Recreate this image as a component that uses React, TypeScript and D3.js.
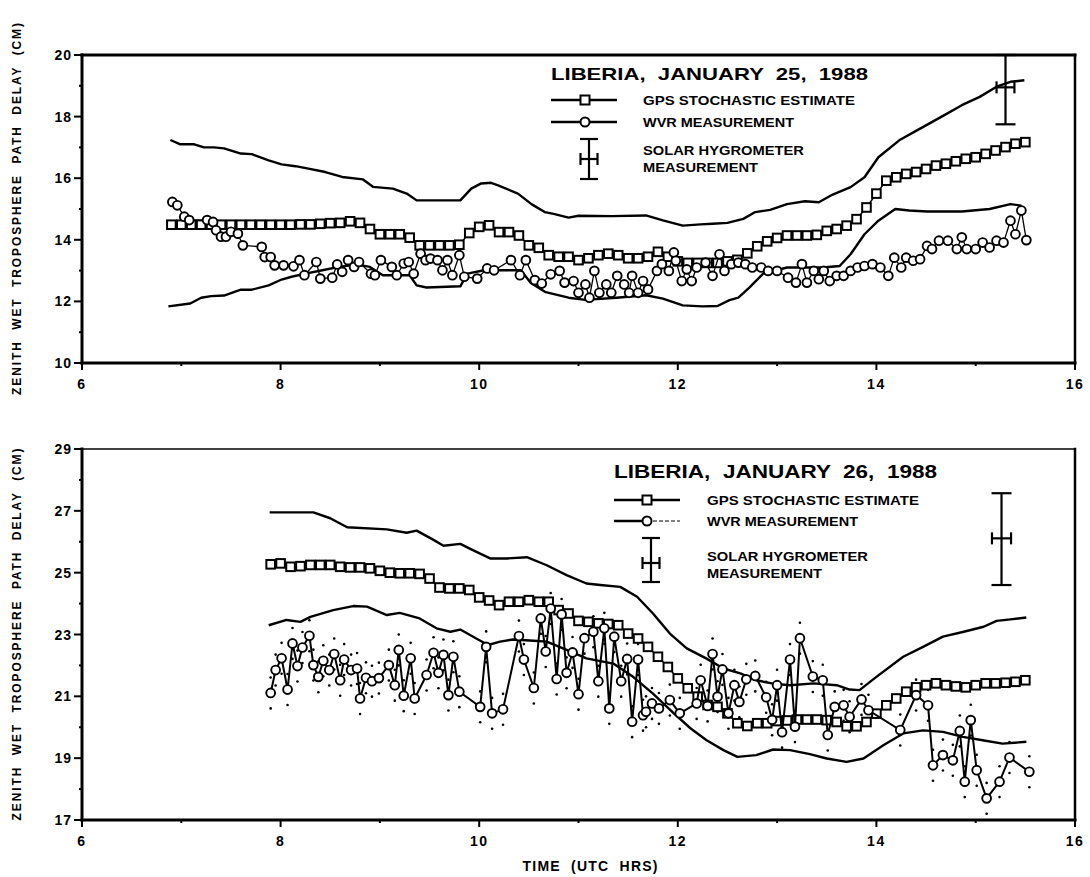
import React from "react";
import * as d3 from "d3";

// ---------- DATA ----------
const X_TICKS = [6, 7, 8, 9, 10, 11, 12, 13, 14, 15, 16];
const X_LABELS = [6, 8, 10, 12, 14, 16];
const Y25_TICKS = [10, 11, 12, 13, 14, 15, 16, 17, 18, 19, 20];
const Y25_LABELS = [10, 12, 14, 16, 18, 20];
const Y26_TICKS = [17, 18, 19, 20, 21, 22, 23, 24, 25, 26, 27, 28, 29];
const Y26_LABELS = [17, 19, 21, 23, 25, 27, 29];

const UPPER_25: [number, number][] = [
  [6.89, 17.24], [6.99, 17.1], [7.13, 17.1], [7.23, 17.0], [7.33, 17.0], [7.43, 16.97], [7.6, 16.8], [7.71, 16.78],
  [7.88, 16.58], [8.01, 16.45], [8.15, 16.39], [8.28, 16.31], [8.45, 16.2], [8.62, 16.04], [8.83, 15.96], [8.93, 15.72],
  [9.13, 15.66], [9.27, 15.5], [9.37, 15.28], [9.81, 15.28], [9.92, 15.66], [10.02, 15.83], [10.12, 15.85], [10.19, 15.77],
  [10.39, 15.5], [10.53, 15.15], [10.66, 14.9], [10.75, 14.84], [10.9, 14.72], [11.0, 14.78], [11.34, 14.77], [11.68, 14.79],
  [11.85, 14.63], [12.05, 14.46], [12.23, 14.5], [12.35, 14.52], [12.5, 14.55], [12.66, 14.68], [12.78, 14.9], [12.93, 14.97],
  [13.1, 15.16], [13.28, 15.25], [13.42, 15.22], [13.56, 15.47], [13.74, 15.71], [13.88, 16.03], [14.02, 16.68], [14.23, 17.23],
  [14.44, 17.61], [14.68, 18.04], [14.86, 18.37], [15.04, 18.64], [15.21, 18.97], [15.35, 19.13], [15.49, 19.18],
];
const LOWER_25: [number, number][] = [
  [6.87, 11.84], [7.09, 11.93], [7.2, 12.12], [7.3, 12.17], [7.43, 12.19], [7.6, 12.38], [7.71, 12.38], [7.88, 12.52],
  [8.01, 12.71], [8.11, 12.8], [8.25, 12.9], [8.42, 13.01], [8.59, 13.12], [8.76, 13.2], [8.9, 13.12], [9.03, 12.85],
  [9.3, 12.85], [9.37, 12.52], [9.47, 12.45], [9.81, 12.49], [9.88, 12.9], [10.05, 13.01], [10.29, 13.01], [10.42, 13.01],
  [10.52, 12.6], [10.67, 12.3], [10.9, 12.12], [11.07, 12.05], [11.38, 12.12], [11.68, 12.2], [11.85, 12.09], [12.05, 11.87],
  [12.25, 11.84], [12.4, 11.85], [12.52, 12.04], [12.61, 12.12], [12.72, 12.45], [12.86, 12.9], [13.1, 13.1], [13.46, 13.1],
  [13.63, 13.15], [13.74, 13.53], [13.88, 14.18], [14.02, 14.62], [14.19, 15.0], [14.33, 14.95], [14.51, 14.92], [14.86, 14.92],
  [15.14, 15.0], [15.35, 15.16], [15.46, 15.11],
];
const GPS_25: [number, number][] = [
  [6.9, 14.49], [7.0, 14.49], [7.1, 14.49], [7.2, 14.49], [7.3, 14.49], [7.4, 14.49], [7.5, 14.49], [7.6, 14.49],
  [7.7, 14.49], [7.8, 14.49], [7.9, 14.49], [8.0, 14.49], [8.1, 14.49], [8.2, 14.5], [8.3, 14.5], [8.4, 14.52],
  [8.5, 14.54], [8.6, 14.55], [8.7, 14.6], [8.8, 14.55], [8.9, 14.35], [9.0, 14.18], [9.1, 14.18], [9.2, 14.18],
  [9.3, 14.07], [9.4, 13.82], [9.5, 13.82], [9.6, 13.82], [9.7, 13.82], [9.8, 13.84], [9.9, 14.22], [10.0, 14.42],
  [10.1, 14.47], [10.2, 14.25], [10.3, 14.25], [10.4, 14.14], [10.5, 13.82], [10.6, 13.74], [10.7, 13.5], [10.8, 13.45],
  [10.9, 13.45], [11.0, 13.34], [11.1, 13.4], [11.2, 13.5], [11.3, 13.55], [11.4, 13.5], [11.5, 13.4], [11.6, 13.4],
  [11.7, 13.45], [11.8, 13.61], [11.9, 13.45], [12.0, 13.3], [12.1, 13.25], [12.2, 13.25], [12.3, 13.25], [12.4, 13.25],
  [12.5, 13.3], [12.6, 13.35], [12.7, 13.56], [12.8, 13.79], [12.9, 13.95], [13.0, 14.06], [13.1, 14.14], [13.2, 14.14],
  [13.3, 14.14], [13.4, 14.16], [13.5, 14.29], [13.6, 14.35], [13.7, 14.46], [13.8, 14.67], [13.9, 15.05], [14.0, 15.5],
  [14.1, 15.92], [14.2, 16.03], [14.3, 16.14], [14.4, 16.2], [14.5, 16.3], [14.6, 16.41], [14.7, 16.47], [14.8, 16.55],
  [14.9, 16.63], [15.0, 16.68], [15.1, 16.79], [15.2, 16.9], [15.3, 17.01], [15.4, 17.12], [15.5, 17.17],
];
const WVR_25: [number, number][] = [
  [6.91, 15.23], [6.96, 15.12], [7.03, 14.75], [7.08, 14.64], [7.26, 14.64], [7.32, 14.58], [7.35, 14.31], [7.4, 14.1],
  [7.45, 14.1], [7.5, 14.26], [7.57, 14.2], [7.62, 13.82], [7.81, 13.77], [7.84, 13.44], [7.9, 13.44], [7.94, 13.17],
  [8.03, 13.17], [8.13, 13.14], [8.19, 13.34], [8.24, 12.85], [8.36, 13.28], [8.4, 12.74], [8.52, 12.77], [8.57, 13.2],
  [8.62, 12.96], [8.68, 13.34], [8.74, 13.12], [8.79, 13.28], [8.91, 12.9], [8.95, 12.85], [9.01, 13.34], [9.12, 13.12],
  [9.17, 12.85], [9.24, 13.23], [9.29, 13.28], [9.34, 12.9], [9.41, 13.55], [9.46, 13.34], [9.51, 13.39], [9.58, 13.34],
  [9.63, 13.01], [9.68, 13.34], [9.73, 12.85], [9.8, 13.5], [9.85, 12.8], [9.98, 12.74], [10.08, 13.07], [10.15, 13.01],
  [10.32, 13.34], [10.41, 12.85], [10.47, 13.34], [10.56, 12.69], [10.63, 12.58], [10.72, 12.88], [10.81, 12.99], [10.86, 12.61],
  [10.95, 12.66], [11.0, 12.28], [11.07, 12.55], [11.11, 12.12], [11.16, 12.99], [11.21, 12.28], [11.28, 12.55], [11.33, 12.28],
  [11.39, 12.83], [11.46, 12.55], [11.51, 12.28], [11.54, 12.83], [11.6, 12.28], [11.65, 12.66], [11.7, 12.39], [11.79, 12.99],
  [11.84, 13.21], [11.91, 12.99], [11.96, 13.59], [11.98, 13.32], [12.04, 12.66], [12.09, 13.04], [12.14, 12.66], [12.19, 13.1],
  [12.28, 13.26], [12.35, 12.83], [12.42, 13.53], [12.47, 12.99], [12.54, 13.21], [12.61, 13.26], [12.68, 13.21], [12.75, 13.1],
  [12.84, 13.1], [12.91, 12.99], [13.0, 12.99], [13.11, 12.77], [13.19, 12.61], [13.25, 13.21], [13.3, 12.61], [13.37, 12.99],
  [13.42, 12.72], [13.47, 12.99], [13.53, 12.66], [13.6, 12.83], [13.67, 12.83], [13.74, 12.99], [13.81, 13.1], [13.88, 13.15],
  [13.96, 13.21], [14.04, 13.1], [14.12, 12.83], [14.18, 13.42], [14.25, 13.1], [14.3, 13.42], [14.37, 13.32], [14.44, 13.37],
  [14.51, 13.8], [14.56, 13.7], [14.63, 13.97], [14.72, 13.97], [14.81, 13.7], [14.86, 14.08], [14.91, 13.7], [15.0, 13.7],
  [15.07, 13.91], [15.14, 13.75], [15.21, 13.97], [15.28, 13.91], [15.35, 14.62], [15.4, 14.18], [15.46, 14.95], [15.51, 13.99],
];
// solar hygrometer: [time, value, low, high, half-width in hours]
const SOLAR_25 = [15.3, 18.95, 17.75, 20.0, 0.09];

const UPPER_26: [number, number][] = [
  [7.89, 26.95], [8.33, 26.95], [8.5, 26.76], [8.67, 26.47], [9.07, 26.4], [9.27, 26.29], [9.37, 26.36], [9.54, 26.06],
  [9.64, 25.87], [9.81, 25.93], [9.91, 25.77], [10.11, 25.46], [10.28, 25.46], [10.48, 25.5], [10.68, 25.24], [10.88, 24.92],
  [11.08, 24.65], [11.22, 24.6], [11.42, 24.54], [11.59, 24.22], [11.75, 23.68], [11.92, 23.03], [12.09, 22.55], [12.29, 22.22],
  [12.46, 21.9], [12.63, 21.74], [12.79, 21.52], [12.96, 21.41], [13.13, 21.36], [13.37, 21.42], [13.6, 21.36], [13.73, 21.22],
  [13.83, 21.2], [14.0, 21.63], [14.27, 22.28], [14.47, 22.6], [14.67, 22.93], [14.88, 23.09], [15.08, 23.25], [15.21, 23.44],
  [15.35, 23.49], [15.51, 23.55],
];
const LOWER_26: [number, number][] = [
  [7.88, 23.3], [8.06, 23.47], [8.2, 23.41], [8.3, 23.57], [8.53, 23.79], [8.73, 23.92], [8.87, 23.9], [9.07, 23.63],
  [9.2, 23.7], [9.4, 23.52], [9.57, 23.2], [9.71, 23.09], [9.81, 23.16], [9.97, 22.87], [10.09, 22.66], [10.21, 22.77],
  [10.34, 22.84], [10.55, 22.8], [10.68, 22.77], [10.88, 22.5], [11.08, 22.23], [11.35, 22.06], [11.55, 21.63], [11.75, 21.09],
  [11.96, 20.45], [12.13, 19.96], [12.29, 19.58], [12.46, 19.26], [12.6, 19.04], [12.79, 19.1], [12.96, 19.28], [13.13, 19.26],
  [13.33, 19.13], [13.5, 18.99], [13.7, 18.88], [13.87, 18.99], [14.07, 19.42], [14.27, 19.8], [14.47, 19.9], [14.67, 19.85],
  [14.87, 19.69], [15.07, 19.58], [15.27, 19.47], [15.51, 19.53],
];
const GPS_26: [number, number][] = [
  [7.9, 25.27], [8.0, 25.3], [8.1, 25.19], [8.2, 25.21], [8.3, 25.25], [8.4, 25.25], [8.5, 25.25], [8.6, 25.19],
  [8.7, 25.17], [8.8, 25.17], [8.9, 25.14], [9.0, 25.06], [9.1, 25.0], [9.2, 24.98], [9.3, 24.98], [9.4, 24.96],
  [9.5, 24.81], [9.6, 24.52], [9.7, 24.49], [9.8, 24.49], [9.9, 24.44], [10.0, 24.2], [10.1, 24.1], [10.2, 23.95],
  [10.3, 24.06], [10.4, 24.06], [10.5, 24.11], [10.6, 24.06], [10.7, 24.06], [10.8, 23.79], [10.9, 23.68], [11.0, 23.44],
  [11.1, 23.41], [11.2, 23.36], [11.3, 23.34], [11.4, 23.3], [11.5, 23.03], [11.6, 22.87], [11.7, 22.6], [11.8, 22.28],
  [11.9, 21.95], [12.0, 21.58], [12.1, 21.26], [12.2, 20.99], [12.3, 20.72], [12.4, 20.66], [12.5, 20.45], [12.6, 20.13],
  [12.7, 20.04], [12.8, 20.13], [12.9, 20.13], [13.0, 20.2], [13.1, 20.22], [13.2, 20.25], [13.3, 20.25], [13.4, 20.25],
  [13.5, 20.23], [13.6, 20.17], [13.7, 20.03], [13.8, 20.03], [13.9, 20.17], [14.0, 20.44], [14.1, 20.71], [14.2, 20.93],
  [14.3, 21.15], [14.4, 21.29], [14.5, 21.36], [14.6, 21.42], [14.7, 21.36], [14.8, 21.32], [14.9, 21.29], [15.0, 21.36],
  [15.1, 21.42], [15.2, 21.42], [15.3, 21.44], [15.4, 21.47], [15.5, 21.52],
];
const WVR_26: [number, number][] = [
  [7.9, 21.11], [7.95, 21.85], [8.01, 22.23], [8.07, 21.22], [8.12, 22.71], [8.17, 21.98], [8.22, 22.58], [8.29, 22.96],
  [8.33, 22.01], [8.38, 21.63], [8.43, 22.15], [8.49, 21.85], [8.54, 22.37], [8.6, 21.52], [8.64, 22.19], [8.71, 21.85],
  [8.77, 21.9], [8.8, 20.93], [8.86, 21.6], [8.92, 21.49], [8.99, 21.59], [9.09, 22.01], [9.15, 21.36], [9.19, 22.5],
  [9.24, 21.02], [9.31, 22.23], [9.35, 20.93], [9.47, 21.69], [9.54, 22.41], [9.59, 21.76], [9.64, 22.34], [9.69, 21.04],
  [9.74, 22.28], [9.8, 21.15], [10.01, 20.66], [10.07, 22.6], [10.13, 20.45], [10.24, 20.58], [10.4, 22.95], [10.45, 22.19],
  [10.55, 21.27], [10.62, 23.52], [10.67, 22.45], [10.72, 23.84], [10.78, 21.56], [10.83, 23.65], [10.88, 21.76], [10.94, 22.42],
  [11.0, 21.07], [11.06, 22.88], [11.15, 23.09], [11.2, 21.49], [11.26, 23.2], [11.31, 20.61], [11.36, 22.93], [11.43, 21.49],
  [11.49, 22.21], [11.54, 20.18], [11.6, 22.19], [11.65, 20.39], [11.68, 20.5], [11.74, 20.77], [11.81, 20.61], [11.92, 20.88],
  [12.02, 20.45], [12.19, 20.77], [12.23, 21.52], [12.3, 20.69], [12.35, 22.37], [12.4, 20.99], [12.45, 21.87], [12.51, 20.45],
  [12.57, 21.36], [12.62, 20.82], [12.69, 21.55], [12.78, 21.66], [12.89, 20.97], [12.95, 20.24], [13.0, 21.36], [13.05, 19.84],
  [13.13, 22.19], [13.18, 20.02], [13.23, 22.88], [13.36, 21.64], [13.46, 21.52], [13.51, 19.75], [13.58, 20.66], [13.67, 20.71],
  [13.73, 20.34], [13.85, 20.9], [13.92, 20.55], [14.24, 19.91], [14.4, 21.04], [14.52, 20.71], [14.57, 18.77], [14.67, 19.1],
  [14.77, 18.93], [14.84, 19.88], [14.89, 18.24], [14.95, 20.23], [15.01, 18.61], [15.11, 17.7], [15.24, 18.24], [15.34, 19.02],
  [15.54, 18.56],
];
const WVR_26_ERR = 0.5;
const SOLAR_26 = [15.26, 26.11, 24.6, 27.57, 0.096];

const Y_TITLE = "ZENITH  WET  TROPOSPHERE  PATH  DELAY  (CM)";
const X_TITLE = "TIME  (UTC  HRS)";
const TITLE_25 = "LIBERIA,  JANUARY  25,  1988";
const TITLE_26 = "LIBERIA,  JANUARY  26,  1988";
const LEG_GPS = "GPS STOCHASTIC ESTIMATE";
const LEG_WVR = "WVR MEASUREMENT";
const LEG_SOL1 = "SOLAR HYGROMETER";
const LEG_SOL2 = "MEASUREMENT";

// ---------- LAYOUT ----------
const FONT = '"Liberation Sans", Arial, Helvetica, sans-serif';
const X_LEFT = 82;
const X_RIGHT = 1075;
const PRE = { whiteSpace: "pre" } as any;

const x = d3.scaleLinear().domain([6, 16]).range([X_LEFT, X_RIGHT]);

function ErrorBar({ cx, cy, y1, y2, hx, capW, capH, sw }: any) {
  return (
    <g stroke="#000" strokeWidth={sw} fill="none">
      <line x1={cx} x2={cx} y1={y1} y2={y2} />
      <line x1={cx - capW} x2={cx + capW} y1={y1} y2={y1} />
      <line x1={cx - capW} x2={cx + capW} y1={y2} y2={y2} />
      <line x1={cx - hx} x2={cx + hx} y1={cy} y2={cy} />
      <line x1={cx - hx} x2={cx - hx} y1={cy - capH} y2={cy + capH} />
      <line x1={cx + hx} x2={cx + hx} y1={cy - capH} y2={cy + capH} />
    </g>
  );
}

function Legend({ lx, ly, title, titleW, fs, gpsY, wvrY, textX, sym, solY, solTop, solBot, sol1Y, sol2Y, dashed }: any) {
  const lineX1 = lx;
  const lineX2 = lx + 66;
  return (
    <g fontFamily={FONT} fontWeight="bold">
      <text x={lx} y={ly} fontSize={fs} textLength={titleW} lengthAdjust="spacingAndGlyphs" xmlSpace="preserve" style={PRE}>{title}</text>
      <line x1={lineX1} x2={lineX2} y1={gpsY} y2={gpsY} stroke="#000" strokeWidth={2.5} />
      <rect x={sym - 4.5} y={gpsY - 4.5} width={9} height={9} fill="#fff" stroke="#000" strokeWidth={2} />
      {dashed ? (
        <g>
          <line x1={lineX1} x2={sym} y1={wvrY} y2={wvrY} stroke="#000" strokeWidth={2.5} />
          <line x1={sym} x2={lineX2} y1={wvrY} y2={wvrY} stroke="#000" strokeWidth={1.2} strokeDasharray="4 2" />
        </g>
      ) : (
        <line x1={lineX1} x2={lineX2} y1={wvrY} y2={wvrY} stroke="#000" strokeWidth={2.5} />
      )}
      <circle cx={sym} cy={wvrY} r={4.5} fill="#fff" stroke="#000" strokeWidth={2} />
      <text x={textX} y={gpsY + 5} fontSize={13} textLength={212} lengthAdjust="spacingAndGlyphs">{LEG_GPS}</text>
      <text x={textX} y={wvrY + 5} fontSize={13} textLength={151} lengthAdjust="spacingAndGlyphs">{LEG_WVR}</text>
      <ErrorBar cx={sym + 4} cy={solY} y1={solTop} y2={solBot} hx={8.5} capW={9} capH={6} sw={2.2} />
      <text x={textX} y={sol1Y} fontSize={13} textLength={161} lengthAdjust="spacingAndGlyphs">{LEG_SOL1}</text>
      <text x={textX} y={sol2Y} fontSize={13} textLength={115} lengthAdjust="spacingAndGlyphs">{LEG_SOL2}</text>
    </g>
  );
}

function Panel({ top, bottom, ydom, yTicks, yLabels, upper, lower, gps, wvr, wvrErr, wvrSW, solar, topSW, legend }: any) {
  const y = d3.scaleLinear().domain(ydom).range([bottom, top]);
  const line = d3.line<[number, number]>().x((d) => x(d[0])).y((d) => y(d[1]));
  const midY = (top + bottom) / 2;
  const [st, sv, slo, shi, sdt] = solar;
  return (
    <g>
      <g stroke="#000" fill="none" strokeLinecap="square">
        <line x1={X_LEFT} x2={X_RIGHT} y1={top} y2={top} strokeWidth={topSW} />
        <line x1={X_LEFT} x2={X_LEFT} y1={top} y2={bottom} strokeWidth={3} />
        <line x1={X_RIGHT} x2={X_RIGHT} y1={top} y2={bottom} strokeWidth={2.5} />
        <line x1={X_LEFT} x2={X_RIGHT} y1={bottom} y2={bottom} strokeWidth={3} />
      </g>
      {yTicks.map((v: number) => {
        const major = yLabels.includes(v);
        return (
          <line key={"yt" + v} x1={X_LEFT - (major ? 8 : 3)} x2={X_LEFT} y1={y(v)} y2={y(v)} stroke="#000" strokeWidth={2} />
        );
      })}
      {yLabels.map((v: number) => (
        <text key={"yl" + v} x={72} y={y(v) + 5} textAnchor="end" fontFamily={FONT} fontWeight="bold" fontSize={14} letterSpacing={1}>
          {v}
        </text>
      ))}
      {X_TICKS.map((t) => {
        const major = X_LABELS.includes(t);
        return <line key={"xt" + t} x1={x(t)} x2={x(t)} y1={bottom} y2={bottom + (major ? 7 : 3)} stroke="#000" strokeWidth={2} />;
      })}
      {X_LABELS.map((t) => (
        <text key={"xl" + t} x={x(t)} y={bottom + 26} textAnchor="middle" fontFamily={FONT} fontWeight="bold" fontSize={14} letterSpacing={1.5}>
          {t}
        </text>
      ))}
      <text
        transform={`translate(20.5,${midY}) rotate(-90)`}
        textAnchor="middle"
        fontFamily={FONT}
        fontWeight="bold"
        fontSize={12}
        textLength={372}
        lengthAdjust="spacing"
        xmlSpace="preserve"
        style={PRE}
      >
        {Y_TITLE}
      </text>
      <path d={line(upper) || ""} fill="none" stroke="#000" strokeWidth={2.4} strokeLinejoin="round" />
      <path d={line(lower) || ""} fill="none" stroke="#000" strokeWidth={2.4} strokeLinejoin="round" />
      {wvrErr
        ? wvr.map((d: [number, number], i: number) => (
            <g key={"e" + i}>
              <circle cx={x(d[0])} cy={y(d[1] + wvrErr)} r={1.3} fill="#000" />
              <circle cx={x(d[0])} cy={y(d[1] - wvrErr)} r={1.3} fill="#000" />
            </g>
          ))
        : null}
      <path d={line(gps) || ""} fill="none" stroke="#000" strokeWidth={1.5} />
      {gps.map((d: [number, number], i: number) => (
        <rect key={"g" + i} x={x(d[0]) - 4.3} y={y(d[1]) - 4.3} width={8.6} height={8.6} fill="#fff" stroke="#000" strokeWidth={2} />
      ))}
      <path d={line(wvr) || ""} fill="none" stroke="#000" strokeWidth={wvrSW} strokeLinejoin="round" />
      {wvr.map((d: [number, number], i: number) => (
        <circle key={"w" + i} cx={x(d[0])} cy={y(d[1])} r={4.4} fill="#fff" stroke="#000" strokeWidth={1.9} />
      ))}
      <ErrorBar
        cx={x(st)}
        cy={y(sv)}
        y1={y(shi)}
        y2={y(slo)}
        hx={x(st + sdt) - x(st)}
        capW={10}
        capH={6}
        sw={2.2}
      />
      {legend}
    </g>
  );
}

export default function App() {
  return (
    <svg width={1090} height={877} style={{ position: "absolute", left: 0, top: 0, background: "#fff" }}>
      <rect x={0} y={0} width={1090} height={877} fill="#fff" />
      <Panel
        top={55}
        bottom={363}
        ydom={[10, 20]}
        yTicks={Y25_TICKS}
        yLabels={Y25_LABELS}
        upper={UPPER_25}
        lower={LOWER_25}
        gps={GPS_25}
        wvr={WVR_25}
        wvrErr={0}
        wvrSW={1.3}
        solar={SOLAR_25}
        topSW={3}
        legend={
          <Legend
            lx={551}
            ly={80}
            title={TITLE_25}
            titleW={317}
            fs={17}
            gpsY={100}
            wvrY={122}
            textX={643}
            sym={585}
            solY={159}
            solTop={139}
            solBot={179}
            sol1Y={154.5}
            sol2Y={172}
            dashed={false}
          />
        }
      />
      <Panel
        top={449}
        bottom={820}
        ydom={[17, 29]}
        yTicks={Y26_TICKS}
        yLabels={Y26_LABELS}
        upper={UPPER_26}
        lower={LOWER_26}
        gps={GPS_26}
        wvr={WVR_26}
        wvrErr={WVR_26_ERR}
        wvrSW={2}
        solar={SOLAR_26}
        topSW={1.5}
        legend={
          <Legend
            lx={614}
            ly={478}
            title={TITLE_26}
            titleW={323}
            fs={18}
            gpsY={500}
            wvrY={521}
            textX={707}
            sym={647}
            solY={563}
            solTop={538}
            solBot={582}
            sol1Y={561}
            sol2Y={578}
            dashed={true}
          />
        }
      />
      <text x={590} y={871} textAnchor="middle" fontFamily={FONT} fontWeight="bold" fontSize={14} textLength={135} lengthAdjust="spacing" xmlSpace="preserve" style={PRE}>
        {X_TITLE}
      </text>
    </svg>
  );
}
